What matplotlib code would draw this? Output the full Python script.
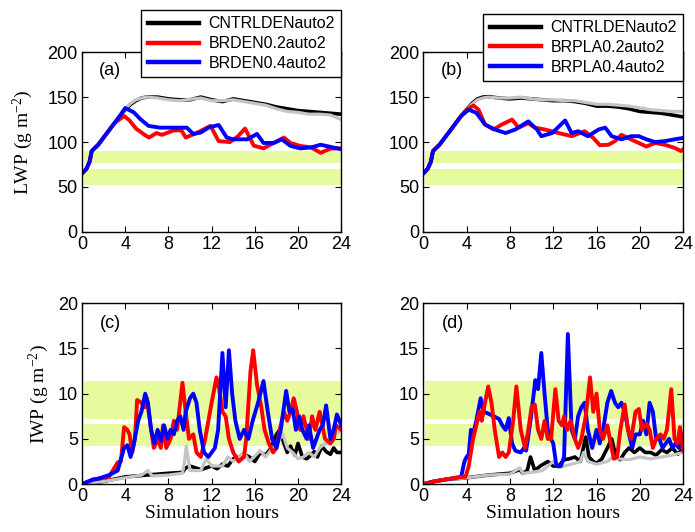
import numpy as np
import matplotlib
matplotlib.use("Agg")
import matplotlib.pyplot as plt

plt.rcParams['font.family'] = 'Liberation Sans'
plt.rcParams['mathtext.fontset'] = 'custom'
plt.rcParams['mathtext.rm'] = 'Liberation Serif'
plt.rcParams['mathtext.it'] = 'Liberation Serif:italic'

# (hour, value) pairs
# ---- LWP, panel (a)
lwp_a_cntrl = [(0, 65), (0.4, 70), (0.7, 78), (0.9, 90), (1.5, 97), (2, 105), (2.5, 113), (3, 121), (3.5, 129),
               (4, 136), (4.5, 142), (5, 146), (5.5, 149), (6, 150), (7, 150), (8, 148), (9, 147), (10, 147),
               (11, 150), (12, 147), (13, 145), (14, 148), (15, 146), (16, 144), (17, 142), (18, 139), (19, 137),
               (20, 135), (21, 134), (22, 133), (23, 132), (24, 131)]
lwp_a_gray = [(0, 65), (0.4, 70), (0.7, 78), (0.9, 90), (1.5, 97), (2, 105), (2.5, 113), (3, 121), (3.5, 129),
              (4, 137), (4.5, 143), (5, 147), (5.5, 149), (6, 150), (7, 149), (8, 147), (9, 146), (10, 147.5),
              (11, 149), (12, 146), (13, 146), (14, 147), (15, 145), (16, 143), (17, 141), (18, 137), (19, 134),
              (20, 133), (21, 131), (22, 131), (23, 130), (24, 125)]
lwp_a_red = [(0, 65), (0.4, 70), (0.7, 78), (0.9, 90), (1.5, 97), (2, 105), (2.5, 113), (3, 121), (3.9, 129),
             (4.4, 124), (5, 115), (5.8, 108), (6.2, 105), (6.9, 110), (7.4, 108), (8.5, 113), (9.2, 113),
             (9.6, 105), (10.6, 110), (11.9, 118), (12.65, 101), (13.7, 100), (14.4, 106), (15.1, 115),
             (15.9, 96), (16.8, 93), (17.75, 99), (18.7, 105), (19.3, 99), (20.2, 95.7), (21.2, 94),
             (22.1, 88), (23.0, 92.7), (24, 93)]
lwp_a_blue = [(0, 65), (0.4, 70), (0.7, 78), (0.9, 90), (1.5, 97), (2, 105), (2.5, 113), (3, 121), (3.5, 129),
              (4.0, 137.8), (4.8, 133), (5.4, 125.5), (6.15, 118), (7.2, 116), (8.5, 116), (9.7, 116),
              (10.3, 109), (11, 110.6), (11.7, 116), (12.65, 119), (13.4, 105), (14, 103), (15.3, 103),
              (16.2, 109), (16.8, 99), (17.75, 99), (18.5, 103), (19.3, 95.7), (20.2, 93), (21.2, 94),
              (22.1, 97), (23, 94.6), (24, 92)]
# ---- LWP, panel (b)
lwp_b_cntrl = [(0, 65), (0.4, 70), (0.7, 78), (0.9, 90), (1.5, 97), (2, 105), (2.5, 113), (3, 121), (3.5, 129),
               (4, 136), (4.5, 143), (5, 148), (5.5, 150), (6, 150.5), (7, 149), (8, 148), (9, 149), (10, 148),
               (11, 147), (12, 146), (13, 146), (14, 145), (15, 143), (16, 140), (17, 140), (18, 139), (19, 137),
               (20, 134), (21, 133), (22, 132), (23, 130), (24, 128)]
lwp_b_gray = [(0, 65), (0.4, 70), (0.7, 78), (0.9, 90), (1.5, 97), (2, 105), (2.5, 113), (3, 121), (3.5, 129),
              (4, 136), (4.5, 142), (5, 147), (5.5, 149), (6, 150), (7, 149), (8, 149), (9, 150), (10, 148),
              (11, 147), (12, 147), (13, 146), (14, 146), (15, 144), (16, 142), (17, 142), (18, 141), (19, 140),
              (20, 138), (21, 136), (22, 135), (23, 134), (24, 134)]
lwp_b_red = [(0, 65), (0.4, 70), (0.7, 78), (0.9, 90), (1.5, 97), (2, 105), (2.5, 113), (3, 121), (3.5, 129),
             (4, 136), (4.64, 140.6), (5.1, 136), (5.7, 119.5), (6.5, 114), (7.25, 119.5), (8.2, 125), (8.8, 116),
             (9.7, 121), (10.3, 116), (11.2, 114), (12.5, 110), (13.7, 106.5), (14.9, 112), (15.7, 104.6),
             (16.3, 96.5), (17.1, 97), (17.7, 101), (18.3, 108), (19.2, 102.8), (19.9, 99), (20.6, 95),
             (21.4, 99), (22.3, 97), (23.2, 93.5), (23.8, 90), (24, 92)]
lwp_b_blue = [(0, 65), (0.4, 70), (0.7, 78), (0.9, 90), (1.5, 97), (2, 105), (2.5, 113), (3, 121), (3.5, 129),
              (4.2, 136), (4.9, 132.5), (5.7, 119.5), (6.6, 114), (7.6, 110), (8.5, 114), (9.7, 123), (10.5, 114),
              (10.9, 106.5), (11.9, 110), (13.1, 124), (13.7, 110), (14.3, 112), (15.2, 106.5), (16.2, 114),
              (16.8, 116), (17.4, 106.5), (18.3, 103), (19.2, 106.5), (19.9, 106.5), (20.6, 103), (21.4, 100),
              (22.3, 101), (23.2, 103), (24, 104.6)]

# ---- IWP, panel (c)
iwp_c_cntrl = [(0, 0), (2, 0.3), (4, 0.8), (6, 1.0), (8, 1.2), (9.3, 1.3), (9.6, 1.8), (10, 2.0), (11, 1.6),
               (12, 2.0), (12.5, 1.7), (13, 2.2), (13.5, 2.0), (14, 2.8), (14.5, 3.0), (15, 3.3), (15.5, 3.0),
               (16, 2.5), (16.5, 3.5), (17, 3.2), (17.5, 4.0), (18, 5.5), (18.3, 6.0), (18.7, 4.5), (19, 3.5),
               (19.3, 4.2), (19.7, 3.2), (20, 4.5), (20.4, 3.0), (20.8, 2.8), (21.2, 3.2), (21.5, 3.6),
               (21.8, 3.0), (22.2, 4.2), (22.6, 3.6), (23, 3.3), (23.3, 4.0), (23.6, 3.5), (24, 3.5)]
iwp_c_gray = [(0, 0), (2, 0.3), (4, 0.7), (5.5, 1.0), (6.1, 1.5), (6.5, 0.9), (8, 1.0), (9.3, 1.2), (9.5, 2.5),
              (9.65, 4.2), (10, 1.5), (11, 1.5), (11.5, 2.8), (12, 2.0), (13, 2.0), (13.5, 3.0), (14, 2.5),
              (14.5, 3.0), (15, 3.5), (15.5, 2.5), (16.5, 3.7), (17, 3.0), (17.5, 3.8), (18, 4.5), (18.6, 5.5),
              (19, 4.0), (19.5, 3.5), (20, 2.8), (20.5, 3.0), (21, 3.5), (21.5, 3.0), (22, 4.0), (22.5, 4.5),
              (23, 4.5), (23.5, 5.5), (24, 6.0)]
iwp_c_red = [(0, 0), (1, 0.5), (2.5, 0.8), (3.3, 2.4), (3.6, 2.5), (3.9, 6.3), (4.2, 6.0), (4.4, 5.5),
             (4.65, 3.5), (4.9, 5.0), (5.1, 9.3), (5.5, 9.0), (5.8, 8.5), (6.0, 9.5), (6.4, 6.0), (6.65, 4.0),
             (7.0, 5.0), (7.3, 4.0), (7.5, 6.5), (7.8, 4.0), (8.2, 5.0), (8.5, 7.0), (8.8, 6.0), (9.3, 11.2),
             (9.6, 8.0), (9.9, 5.0), (10.3, 5.5), (10.6, 3.5), (11.0, 3.0), (11.4, 5.0), (12.0, 9.0),
             (12.45, 11.8), (12.7, 10.5), (13.0, 8.0), (13.3, 7.5), (13.6, 5.0), (14.0, 3.5), (14.5, 2.5),
             (15.0, 3.0), (15.2, 5.0), (15.6, 12.5), (15.85, 14.8), (16.2, 11.0), (16.6, 8.5), (16.9, 6.0),
             (17.3, 4.5), (17.7, 3.5), (18.0, 4.0), (18.3, 6.0), (18.7, 8.0), (19.0, 7.0), (19.3, 8.0),
             (19.6, 9.5), (19.9, 8.0), (20.2, 6.0), (20.5, 7.5), (21.0, 5.0), (21.3, 7.5), (21.6, 6.0),
             (22.0, 8.0), (22.5, 5.0), (23.0, 4.5), (23.3, 5.0), (23.5, 6.5), (24.0, 6.0)]
iwp_c_blue = [(0, 0), (1, 0.5), (1.5, 0.6), (2.5, 1.0), (3.3, 1.5), (3.9, 4.0), (4.2, 4.3), (4.5, 3.0),
              (4.8, 4.5), (5.2, 7.0), (5.5, 8.0), (5.85, 10.0), (6.1, 9.0), (6.4, 6.0), (6.7, 4.5), (7.0, 6.0),
              (7.3, 4.8), (7.6, 6.5), (7.9, 5.0), (8.2, 6.0), (8.5, 5.5), (8.8, 7.0), (9.1, 7.5), (9.4, 6.0),
              (9.6, 8.0), (10.0, 9.5), (10.3, 10.0), (10.6, 9.0), (10.9, 6.0), (11.3, 3.5), (11.7, 3.0),
              (12.0, 3.5), (12.3, 4.0), (12.6, 6.0), (13.0, 14.5), (13.3, 8.5), (13.6, 14.8), (13.9, 10.0),
              (14.2, 7.0), (14.6, 5.0), (15.0, 6.0), (15.4, 5.0), (15.8, 7.0), (16.3, 9.0), (16.8, 11.4),
              (17.2, 8.0), (17.6, 5.0), (18.0, 4.0), (18.4, 6.0), (18.9, 10.3), (19.2, 8.0), (19.5, 8.3),
              (19.8, 6.0), (20.1, 7.5), (20.4, 6.0), (20.8, 5.0), (21.0, 6.5), (21.4, 4.0), (21.7, 5.0),
              (22.0, 6.0), (22.3, 6.5), (22.6, 8.7), (23.0, 5.0), (23.3, 6.0), (23.6, 7.7), (24.0, 6.5)]
# ---- IWP, panel (d)
iwp_d_cntrl = [(0, 0), (1, 0.3), (2, 0.5), (4, 0.7), (6, 1.0), (8, 1.2), (8.9, 1.6), (9.2, 1.2), (9.6, 1.5),
               (9.9, 3.0), (10.3, 1.5), (10.8, 2.0), (11.5, 2.5), (12, 2.0), (12.5, 2.0), (13, 2.7), (13.5, 2.8),
               (14, 3.0), (14.5, 2.5), (15, 5.2), (15.3, 3.0), (15.7, 2.5), (16, 2.3), (16.5, 2.8), (17, 4.0),
               (17.4, 5.0), (17.8, 3.0), (18.2, 2.7), (18.6, 3.5), (19, 4.0), (19.5, 3.5), (20, 4.0),
               (20.5, 3.5), (21, 3.5), (21.5, 3.2), (22, 3.8), (22.5, 3.5), (23, 4.0), (23.5, 3.3), (24, 4.0)]
iwp_d_gray = [(0, 0), (1, 0.3), (2, 0.5), (4, 0.7), (6, 1.0), (8, 1.1), (8.9, 1.8), (9.2, 1.2), (10, 1.3),
              (11, 1.5), (12, 2.5), (12.5, 1.8), (13, 2.0), (14, 2.3), (14.5, 2.5), (14.8, 3.5), (15.2, 2.5),
              (16, 2.2), (17, 2.5), (17.5, 3.0), (18, 2.8), (19, 2.7), (20, 3.0), (21, 2.8), (22, 3.0),
              (23, 3.2), (24, 3.5)]
iwp_d_red = [(0, 0), (1, 0.3), (2, 0.5), (3.5, 0.8), (3.9, 0.8), (4.2, 2.0), (4.6, 5.0), (4.9, 6.5), (5.2, 8.0),
             (5.4, 7.0), (5.7, 9.0), (6.0, 10.8), (6.3, 9.0), (6.6, 6.0), (7.0, 3.0), (7.3, 3.5), (7.6, 3.0),
             (7.9, 3.5), (8.3, 7.0), (8.6, 10.8), (9.0, 6.0), (9.4, 4.0), (9.7, 6.0), (10.0, 8.5), (10.3, 8.8),
             (10.6, 6.0), (10.9, 5.0), (11.2, 7.0), (11.5, 5.0), (11.8, 5.0), (12.2, 10.5), (12.5, 7.0),
             (12.8, 6.5), (13.0, 7.5), (13.3, 6.0), (13.6, 7.0), (14.0, 5.0), (14.3, 4.0), (14.6, 5.0),
             (15.0, 7.5), (15.4, 11.8), (15.7, 8.0), (16.0, 10.0), (16.3, 6.0), (16.6, 5.0), (17.0, 6.5),
             (17.3, 4.5), (17.6, 2.8), (17.9, 3.0), (18.2, 6.0), (18.6, 8.8), (18.9, 6.0), (19.2, 5.0),
             (19.6, 8.0), (19.9, 8.3), (20.2, 6.0), (20.6, 6.7), (20.9, 6.0), (21.2, 4.0), (21.5, 5.0),
             (21.9, 5.5), (22.2, 5.0), (22.5, 6.0), (22.9, 10.5), (23.2, 5.0), (23.5, 4.5), (23.7, 6.3),
             (24.0, 3.7)]
iwp_d_blue = [(0, 0), (1, 0.3), (2, 0.5), (3.5, 0.8), (3.8, 2.5), (4.0, 3.0), (4.2, 3.3), (4.4, 6.0), (4.6, 5.5),
              (4.9, 7.0), (5.3, 9.5), (5.6, 8.0), (6.0, 7.8), (6.5, 7.5), (7.0, 7.2), (7.3, 6.5), (7.6, 6.0),
              (7.9, 7.3), (8.2, 4.5), (8.5, 3.7), (9.0, 3.5), (9.3, 4.0), (9.5, 3.7), (9.9, 7.0), (10.35, 11.5),
              (10.6, 10.5), (10.9, 14.5), (11.2, 10.0), (11.5, 6.0), (11.8, 5.0), (12.0, 4.5), (12.3, 2.0),
              (12.7, 2.0), (13.0, 3.0), (13.35, 16.6), (13.7, 6.0), (14.0, 5.0), (14.3, 7.5), (14.6, 8.5),
              (14.9, 9.0), (15.2, 6.0), (15.6, 4.0), (16.0, 6.0), (16.3, 4.5), (16.6, 6.0), (17.0, 9.0),
              (17.35, 10.3), (17.7, 9.0), (18.0, 8.5), (18.3, 9.0), (18.6, 8.0), (19.0, 5.5), (19.3, 4.0),
              (19.6, 5.5), (20.0, 5.5), (20.3, 7.0), (20.6, 5.5), (20.9, 9.0), (21.2, 8.0), (21.5, 5.0),
              (21.8, 5.0), (22.1, 4.0), (22.4, 4.5), (22.7, 5.0), (23.0, 4.0), (23.3, 4.5), (23.6, 4.0),
              (24.0, 5.5)]

# observed ranges (shaded)
lwp_bands = [(52.6, 70.0), (76.5, 90.0)]
iwp_bands = [(4.2, 6.65), (7.2, 11.4)]

hour_ticks = [0, 4, 8, 12, 16, 20, 24]
labels_a = ['CNTRLDENauto2', 'BRDEN0.2auto2', 'BRDEN0.4auto2']
labels_b = ['CNTRLDENauto2', 'BRPLA0.2auto2', 'BRPLA0.4auto2']

band_color = '#e6fa9e'
serif = 'Liberation Serif'

fig = plt.figure(figsize=(6.95, 5.32), dpi=100)
ax_a = fig.add_axes([0.118, 0.564, 0.373, 0.338])
ax_b = fig.add_axes([0.609, 0.564, 0.374, 0.338])
ax_c = fig.add_axes([0.118, 0.090, 0.373, 0.340])
ax_d = fig.add_axes([0.609, 0.090, 0.374, 0.340])


def xy(pairs):
    a = np.array(pairs, dtype=float)
    return a[:, 0], a[:, 1]


def draw(ax, cntrl, gray, red, blue, bands, red_on_top=False):
    for lo, hi in bands:
        ax.fill_between([0.2, 24], lo, hi, color=band_color, lw=0, zorder=0)
    lines = []
    lines.append(ax.plot(*xy(cntrl), color='black', lw=2.6, zorder=2)[0])
    ax.plot(*xy(gray), color='#c4c4c4', lw=2.3, zorder=2)
    zr, zb = (4, 3) if red_on_top else (3, 4)
    lines.append(ax.plot(*xy(red), color='#ff0000', lw=2.8, zorder=zr)[0])
    lines.append(ax.plot(*xy(blue), color='#0000ff', lw=2.8, zorder=zb)[0])
    ax.set_xlim(0, 24)
    ax.set_xticks(hour_ticks)
    ax.tick_params(direction='in', top=True, right=True, length=4, labelsize=13, pad=3)
    for s in ax.spines.values():
        s.set_linewidth(1.0)
        s.set_zorder(5)
    return lines


la = draw(ax_a, lwp_a_cntrl, lwp_a_gray, lwp_a_red, lwp_a_blue, lwp_bands)
lb = draw(ax_b, lwp_b_cntrl, lwp_b_gray, lwp_b_red, lwp_b_blue, lwp_bands)
draw(ax_c, iwp_c_cntrl, iwp_c_gray, iwp_c_red, iwp_c_blue, iwp_bands)
draw(ax_d, iwp_d_cntrl, iwp_d_gray, iwp_d_red, iwp_d_blue, iwp_bands, red_on_top=True)

for ax in (ax_a, ax_b):
    ax.set_ylim(0, 200)
    ax.set_yticks([0, 50, 100, 150, 200])
for ax in (ax_c, ax_d):
    ax.set_ylim(0, 20)
    ax.set_yticks([0, 5, 10, 15, 20])
    ax.set_xlabel('Simulation hours', family=serif, fontsize=14, labelpad=0)

ax_a.set_ylabel('LWP (g m$^{-2}$)', family=serif, fontsize=14, labelpad=9)
ax_c.set_ylabel('IWP (g m$^{-2}$)', family=serif, fontsize=14, labelpad=5)

ax_a.text(1.6, 180, '(a)', fontsize=13, va='center')
ax_b.text(1.6, 180, '(b)', fontsize=13, va='center')
ax_c.text(1.7, 17.8, '(c)', fontsize=13, va='center')
ax_d.text(1.7, 17.8, '(d)', fontsize=13, va='center')

for ax, lines, labels, anchor in ((ax_a, la, labels_a, (0.491, 0.981)), (ax_b, lb, labels_b, (0.983, 0.974))):
    leg = ax.legend(lines, labels, loc='upper right', bbox_to_anchor=anchor, bbox_transform=fig.transFigure,
                    fontsize=11.5, frameon=True, fancybox=False, framealpha=1, edgecolor='black',
                    handlelength=3.2, borderaxespad=0, borderpad=0.4, labelspacing=0.3, handletextpad=0.6)
    leg.get_frame().set_linewidth(1.0)
    for h in leg.get_lines():
        h.set_linewidth(3.2)
    leg.set_zorder(10)

fig.savefig('out.png', dpi=100)
